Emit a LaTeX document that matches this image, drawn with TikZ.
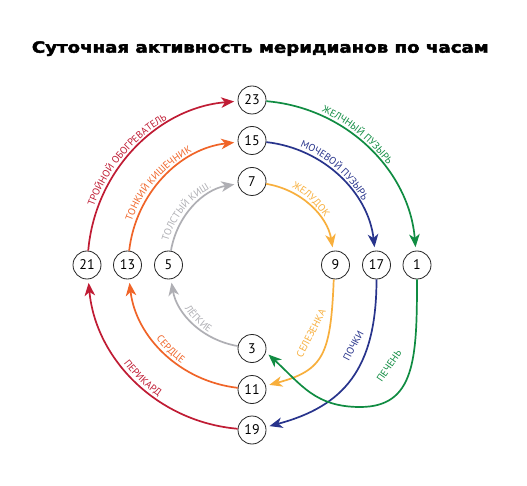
\documentclass[tikz,border=0pt]{standalone}
\usepackage{fontspec}
\usepackage{graphicx}
\setmainfont{PT Sans}
\newfontfamily\titlefont[FakeBold=2.5]{DejaVu Sans}
\usetikzlibrary{arrows.meta,decorations.text}
\definecolor{cRed}{RGB}{192,28,52}
\definecolor{cOrange}{RGB}{240,100,40}
\definecolor{cGray}{RGB}{175,175,180}
\definecolor{cGreen}{RGB}{16,140,66}
\definecolor{cNavy}{RGB}{40,52,140}
\definecolor{cYellow}{RGB}{248,175,60}
\newcommand\lblfont{\fontsize{10}{10}\selectfont}
\begin{document}
\begin{tikzpicture}[x=1pt,y=1pt,
  hour/.style={circle, draw=black!85, line width=0.8pt, fill=white,
    minimum size=28pt, inner sep=0pt, font=\fontsize{14}{14}\selectfont},
  conn/.style={line width=1.7pt, shorten >=3.5pt,
    -{Stealth[length=13pt,width=10.5pt,inset=3.8pt]}},
  lbl/.style 2 args={decorate, decoration={text along path, text align=center,
    text={|\lblfont\color{#1}|#2}}},
  slbl/.style={inner sep=0pt, font=\lblfont}]
\useasboundingbox (0,0) rectangle (527,485);
\fill[white] (0,0) rectangle (527,485);
\coordinate (C) at (252,220);

\node[anchor=base west, inner sep=0pt] (title) at (31.7,432.3)
  {\resizebox{456.6pt}{11.5pt}{\titlefont\bfseries Суточная активность меридианов по часам}};

% hour nodes
\node[hour] (n23) at (252,385) {23};
\node[hour] (n15) at (252,344.5) {15};
\node[hour] (n7)  at (252,303.5) {7};
\node[hour] (n21) at (87,220) {21};
\node[hour] (n13) at (127.5,220) {13};
\node[hour] (n5)  at (168.5,220) {5};
\node[hour] (n9)  at (335.5,220) {9};
\node[hour] (n17) at (376.5,220) {17};
\node[hour] (n1)  at (417,220) {1};
\node[hour] (n3)  at (252,136.5) {3};
\node[hour] (n11) at (252,95.5) {11};
\node[hour] (n19) at (252,55) {19};
\coordinate (g) at (360,78);

% top-left arcs
\draw[conn,cRed]    (n21) to[out=85.1,in=184.9,distance=80.4pt] (n23);
\draw[conn,cOrange] (n13) to[out=83.5,in=186.5,distance=58.1pt] (n15);
\draw[conn,cGray]   (n5)  to[out=80.4,in=189.6,distance=35.5pt] (n7);
% top-right arcs
\draw[conn,cGreen]  (n23) to[out=-4.9,in=94.9,distance=80.4pt] (n1);
\draw[conn,cNavy]   (n15) to[out=-6.5,in=96.5,distance=58.1pt] (n17);
\draw[conn,cYellow] (n7)  to[out=-9.6,in=99.6,distance=35.5pt] (n9);
% bottom-left arcs
\draw[conn,cGray]   (n3)  to[out=170.4,in=-80.4,distance=35.5pt] (n5);
\draw[conn,cOrange] (n11) to[out=173.5,in=-83.5,distance=58.1pt] (n13);
\draw[conn,cRed]    (n19) to[out=175.1,in=-84.9,distance=80.4pt] (n21);
% bottom-right curves
\draw[conn,cYellow] (n9.-97) to[out=-92.3,in=15,out distance=75pt,in distance=60pt] (n11.15);
\draw[conn,cNavy]   (n17.south) to[out=-90,in=15,out distance=90pt,in distance=80pt] (n19.12);
\draw[conn,cGreen]  (n1.south) to[out=-90,in=0,out distance=80pt,in distance=55pt] (g)
   to[out=180,in=-42.4,out distance=45pt,in distance=47.4pt] (n3.-15);

% labels along arcs
\path[lbl={cRed}{ТРОЙНОЙ ОБОГРЕВАТЕЛЬ}] ([shift={(C)}]175:168.5) arc[start angle=175,end angle=105,radius=168.5];
\path[lbl={cOrange}{ТОНКИЙ КИШЕЧНИК}] ([shift={(C)}]175:128) arc[start angle=175,end angle=103,radius=128];
\path[lbl={cGray}{ТОЛСТЫЙ КИШ.}] ([shift={(C)}]180:87) arc[start angle=180,end angle=102,radius=87];
\path[lbl={cGreen}{ЖЕЛЧНЫЙ ПУЗЫРЬ}] ([shift={(C)}]90:168.5) arc[start angle=90,end angle=12,radius=168.5];
\path[lbl={cNavy}{МОЧЕВОЙ ПУЗЫРЬ}] ([shift={(C)}]88:128) arc[start angle=88,end angle=10,radius=128];
\path[lbl={cYellow}{ЖЕЛУДОК}] ([shift={(C)}]85:87) arc[start angle=85,end angle=11,radius=87];
\path[lbl={cGray}{ЛЁГКИЕ}] ([shift={(C)}]190:80) arc[start angle=190,end angle=260,radius=80];
\path[lbl={cOrange}{СЕРДЦЕ}] ([shift={(C)}]190:121) arc[start angle=190,end angle=262,radius=121];
\path[lbl={cRed}{ПЕРИКАРД}] ([shift={(C)}]190:161.5) arc[start angle=190,end angle=262,radius=161.5];

\node[slbl, text=cYellow, rotate=62.7] (lsel) at (311,151.7) {СЕЛЕЗЕНКА};
\node[slbl, text=cNavy, rotate=62.2] (lpoch) at (353.3,139.2) {ПОЧКИ};
\node[slbl, text=cGreen, rotate=55.6] (lpech) at (389.2,119.2) {ПЕЧЕНЬ};
\end{tikzpicture}
\end{document}
